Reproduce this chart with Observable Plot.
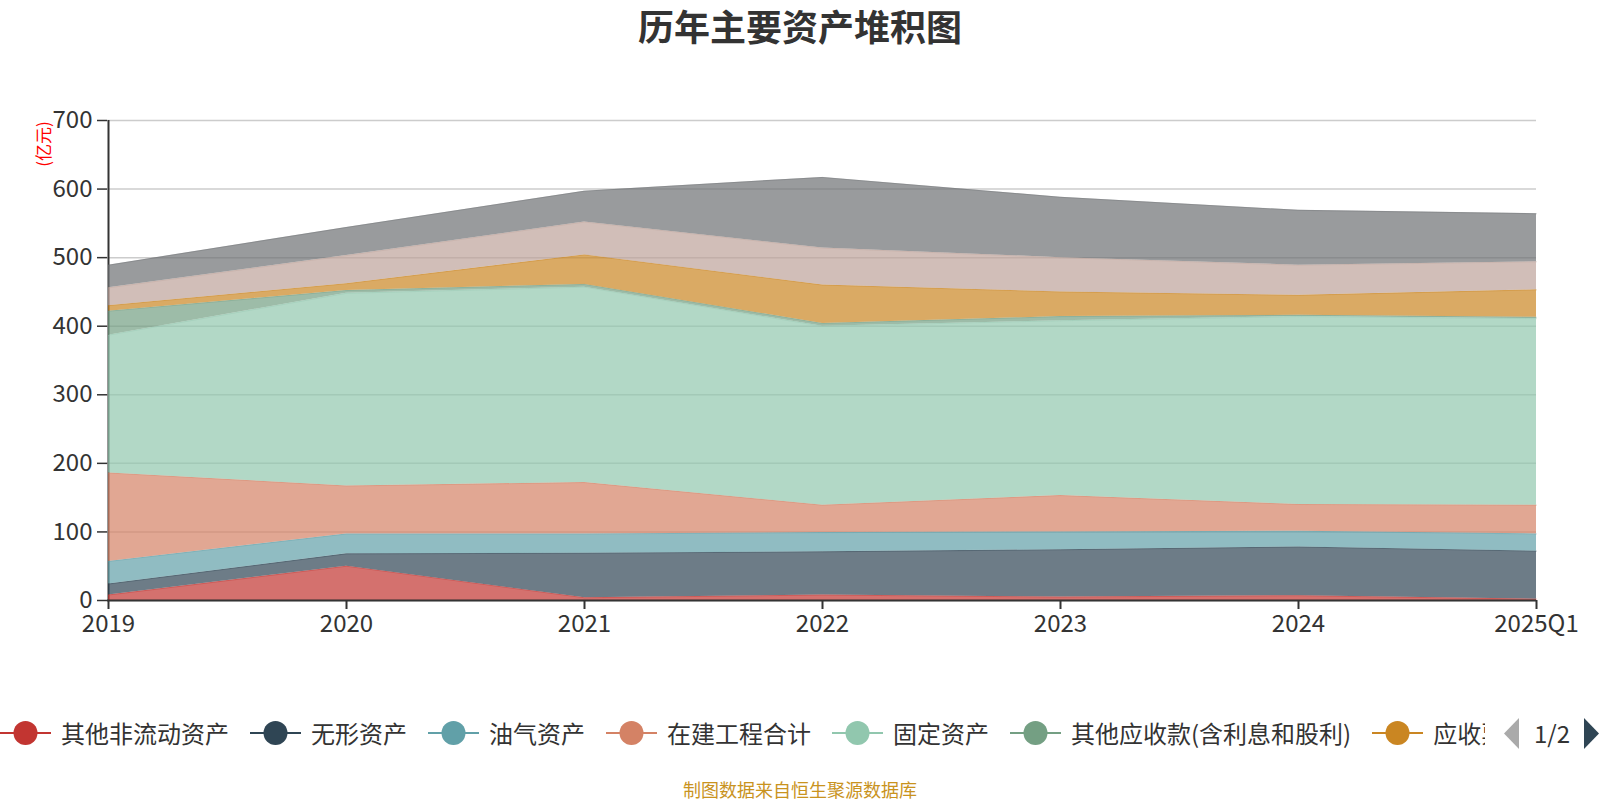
<!DOCTYPE html>
<html><head><meta charset="utf-8">
<script src="https://cdn.jsdelivr.net/npm/d3@7"></script>
<script src="https://cdn.jsdelivr.net/npm/@observablehq/plot@0.6"></script>
<style>
body{margin:0;width:1600px;height:800px;position:relative;background:#fff;font-family:"Noto Sans CJK SC","Noto Sans",sans-serif;overflow:hidden}
#title{position:absolute;top:5px;left:800px;transform:translateX(-50%);font-size:36px;line-height:40px;font-weight:bold;color:#333;white-space:nowrap}
#chart{position:absolute;top:0;left:0}
#unit{position:absolute;left:43px;top:144px;transform:translate(-50%,-50%) rotate(-90deg);color:#f00;font-size:17px;line-height:20px;white-space:nowrap}
#legend{position:absolute;top:716px;left:0;width:1485px;height:34px;overflow:hidden;display:flex;align-items:center;white-space:nowrap}
.item{display:flex;align-items:center;margin-right:21px;flex:none}
.item svg{margin-right:10px;flex:none}
.item span{font-size:24px;line-height:34px;color:#333}
#pager{position:absolute;top:716px;left:1503px;height:34px;display:flex;align-items:center}
#pager span{font-size:24px;line-height:34px;color:#333;margin:0 13px 0 14px}
#caption{position:absolute;top:777px;left:800px;transform:translateX(-50%);font-size:18px;line-height:24px;color:#c9931e;white-space:nowrap}
</style></head>
<body>
<div id="chart"></div>
<div id="title">历年主要资产堆积图</div>
<div id="unit">(亿元)</div>
<div id="legend"></div>
<div id="pager"></div>
<div id="caption">制图数据来自恒生聚源数据库</div>
<script>
const years = ["2019","2020","2021","2022","2023","2024","2025Q1"];
const seriesNames = ["其他非流动资产","无形资产","油气资产","在建工程合计","固定资产","其他应收款(含利息和股利)","应收票据及应收账款","存货","货币资金"];
const colors = ["#c23531","#2f4554","#61a0a8","#d48265","#91c7ae","#749f83","#ca8622","#bda29a","#6e7074"];
const otherNonCurrent = [8,50,4,8,5,7,2];
const intangible      = [16,18,65,63,69,71,70];
const oilGas          = [33,29,28,28,26,23,25];
const construction    = [129,70,75,40,53,39,42];
const fixedAssets     = [201,281,285,261,255,274,272];
const otherRecv       = [35,4,4,4,6,2,2];
const receivables     = [8,10,43,56,36,29,40];
const inventory       = [26,41,48,54,50,44,41];
const cash            = [33,41,45,103,88,80,70];
const yTicks = [0,100,200,300,400,500,600,700];

const seriesValues = [otherNonCurrent,intangible,oilGas,construction,fixedAssets,otherRecv,receivables,inventory,cash];
const data = [];
seriesNames.forEach((s,i)=>years.forEach((y,j)=>data.push({year:y,series:s,value:seriesValues[i][j]})));

const chart = Plot.plot({
  width:1600, height:660,
  marginTop:120, marginBottom:60, marginLeft:107, marginRight:64,
  style:{fontFamily:'"Noto Sans CJK SC","Noto Sans",sans-serif',fontSize:"24px",color:"#333",background:"transparent"},
  x:{type:"point",domain:years,padding:0},
  y:{domain:[0,700]},
  color:{domain:seriesNames,range:colors},
  marks:[
    Plot.gridY(yTicks,{stroke:"#ccc",strokeOpacity:1,strokeWidth:1.5}),
    Plot.ruleX([years[0]],{y1:0,y2:700,stroke:"#333",strokeWidth:2}),
    Plot.areaY(data,{x:"year",y:"value",z:"series",fill:"series",fillOpacity:0.7,order:seriesNames}),
    Plot.line(data,Plot.stackY2({x:"year",y:"value",z:"series",stroke:"series",strokeOpacity:0.35,strokeWidth:1,order:seriesNames})),
    Plot.ruleY([0],{stroke:"#333",strokeWidth:2}),
    Plot.axisY(yTicks,{tickSize:10,tickPadding:5,fontSize:24,fill:"#333",stroke:"#333",strokeWidth:1.5,label:null}),
    Plot.axisX(years,{tickSize:9,tickPadding:5,fontSize:24,fill:"#333",stroke:"#333",strokeWidth:2,label:null})
  ]
});
document.getElementById("chart").appendChild(chart);

const legend = document.getElementById("legend");
seriesNames.forEach((s,i)=>{
  const it = document.createElement("div");
  it.className="item";
  it.innerHTML = `<svg width="51" height="30"><line x1="0" y1="15" x2="51" y2="15" stroke="${colors[i]}" stroke-width="2"/><circle cx="25.5" cy="15" r="12" fill="${colors[i]}"/></svg><span>${s}</span>`;
  legend.appendChild(it);
});
document.getElementById("pager").innerHTML =
  `<svg width="17" height="31"><polygon points="16,0 16,31 1,15.5" fill="#aaa"/></svg><span>1/2</span><svg width="17" height="31"><polygon points="1,0 1,31 16,15.5" fill="#2f4554"/></svg>`;
</script>
</body></html>
